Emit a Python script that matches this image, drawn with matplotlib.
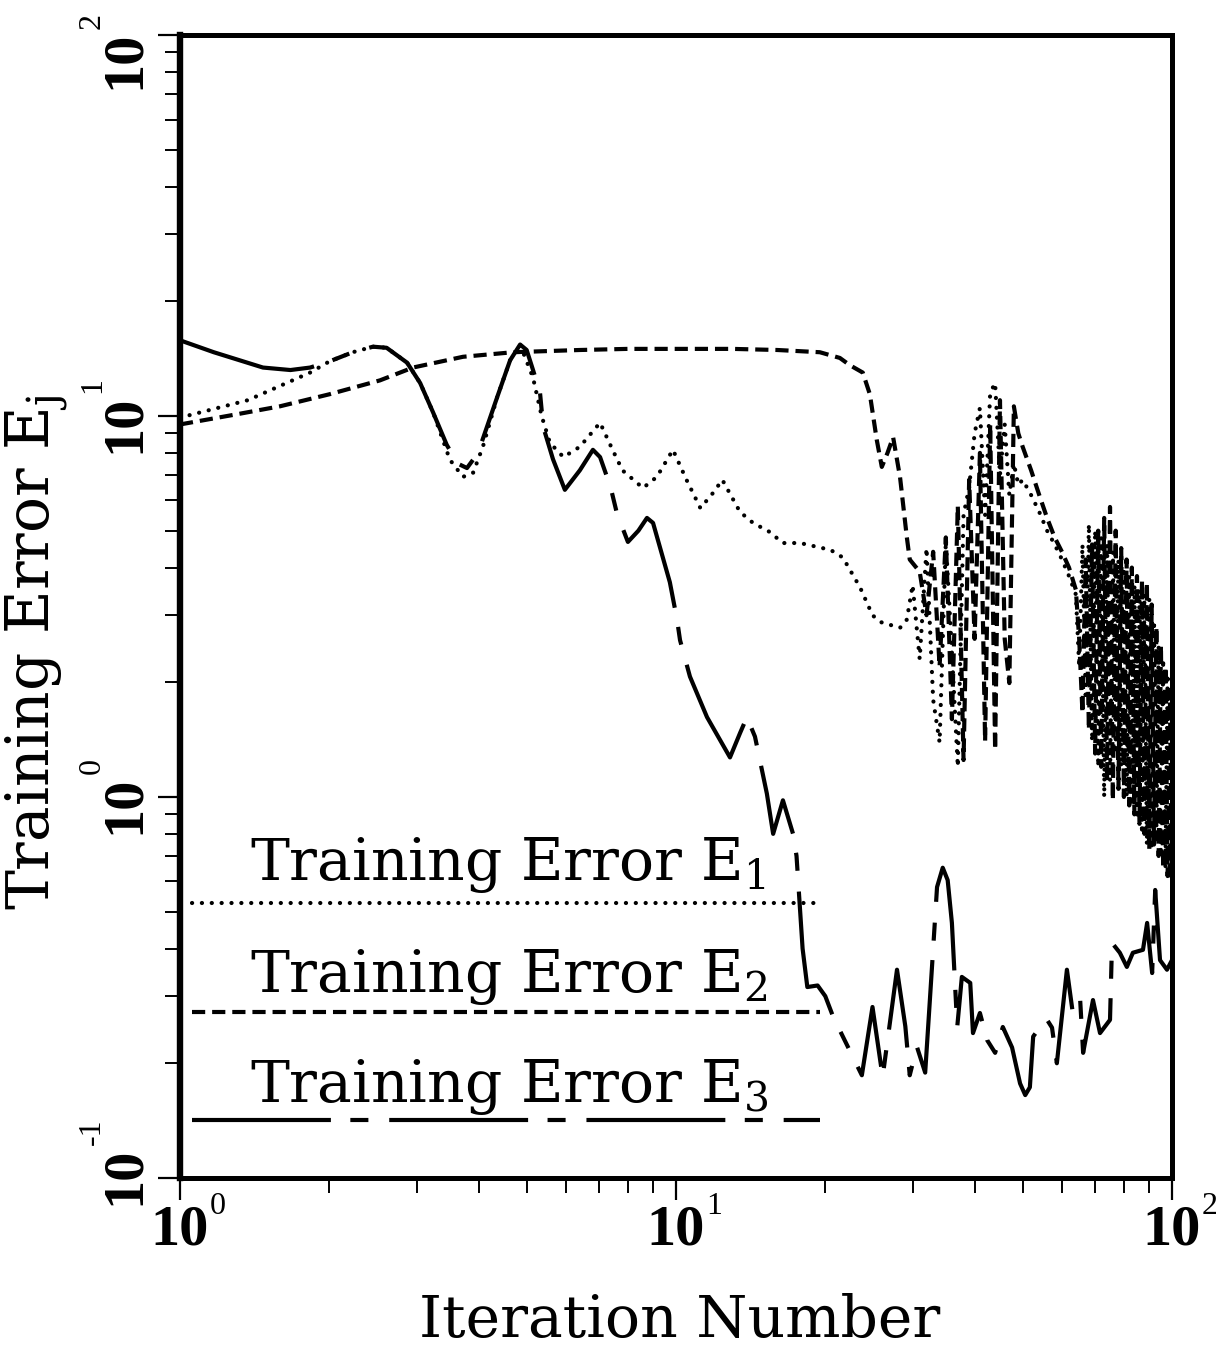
import matplotlib
matplotlib.use("Agg")
import matplotlib.pyplot as plt
from matplotlib.ticker import FixedLocator, NullFormatter
from matplotlib.transforms import blended_transform_factory

plt.rcParams["mathtext.fontset"] = "dejavuserif"
plt.rcParams["lines.scale_dashes"] = False

# ---------------------------------------------------------------- data
# Training error E1 (dotted)
e1_iter = [1.00, 1.37, 1.83, 2.00, 2.23, 2.45, 2.61, 2.87, 3.05, 3.24, 3.50,
           3.72, 3.90, 4.08, 4.36, 4.63, 4.85, 5.15, 5.36, 5.57, 5.93, 6.40,
           7.03, 7.45, 7.80, 8.58, 9.15, 9.86, 10.5, 11.2, 11.9, 12.4, 13.46,
           14.3, 15.5, 16.4, 17.8, 20.5, 21.7, 23.5, 24.9, 25.8, 28.3, 29.2,
           30, 31, 32, 33, 34, 35, 36, 37, 38, 39, 40, 41, 42, 43, 44, 45, 46,
           47, 48, 49, 50, 52, 54, 56, 58, 60, 62, 64, 65, 66, 67, 68, 69, 70,
           71, 72, 73, 74, 75, 76, 77, 78, 79, 80, 81, 82, 83, 84, 85, 86, 87,
           88, 89, 90, 91, 92, 93, 94, 95, 96, 97, 98, 99, 100]
e1_err = [9.9, 11.0, 13.0, 13.9, 14.7, 15.2, 15.1, 13.8, 12.2, 10.2, 7.68,
          6.92, 7.1, 8.3, 11.2, 14.0, 15.4, 12.6, 10.0, 8.5, 7.8, 8.3,
          9.6, 8.15, 7.2, 6.47, 6.92, 8.15, 6.8, 5.73, 6.3, 6.8, 5.6,
          5.24, 4.95, 4.64, 4.64, 4.45, 4.25, 3.55, 3.0, 2.88, 2.78, 2.92,
          3.6, 2.3, 4.5, 1.8, 1.39, 4.7, 2.4, 1.2, 5.5, 6.5, 9.0, 10.5, 5.5,
          11.5, 12.2, 7.0, 9.5, 6.2, 7.5, 6.6, 6.8, 6.2, 5.6, 5.0, 4.6, 4.2,
          3.8, 3.4, 2.2, 4.6, 1.8, 5.2, 1.4, 5.0, 1.2, 4.8, 1.0, 4.6, 1.1,
          4.4, 1.3, 4.2, 1.2, 4.0, 1.0, 3.8, 0.95, 3.6, 0.9, 3.5, 0.8, 3.4,
          0.75, 3.3, 0.73, 2.9, 0.8, 2.5, 0.7, 2.3, 0.65, 2.1, 0.62, 1.9]

# Training error E2 (dashed)
e2_iter = [1.00, 1.30, 1.59, 2.00, 2.53, 2.95, 3.72, 4.69, 6.4, 8.0, 10.0,
           13.0, 16.0, 19.5, 21.4, 22.4, 23.8, 24.6, 25.4, 26.0, 26.7, 27.4,
           28.3, 29.2, 29.6, 31, 32, 33, 34, 35, 36, 37, 38, 39, 40, 41, 42,
           43, 44, 45, 46, 47, 48, 49, 50, 52, 54, 56, 58, 60, 62, 64, 65, 66,
           67, 68, 69, 70, 71, 72, 73, 74, 75, 76, 77, 78, 79, 80, 81, 82, 83,
           84, 85, 86, 87, 88, 89, 90, 91, 92, 93, 94, 95, 96, 97, 98, 99, 100]
e2_err = [9.5, 10.1, 10.6, 11.4, 12.4, 13.4, 14.3, 14.7, 14.9, 15.0, 15.0,
          15.0, 14.9, 14.7, 14.2, 13.6, 13.0, 11.4, 8.65, 7.35, 8.0, 8.8,
          6.9, 4.81, 4.2, 3.9, 3.0, 4.4, 2.2, 4.8, 1.6, 5.8, 1.25, 6.8, 2.6,
          8.0, 1.4, 9.5, 1.33, 11.0, 2.6, 1.99, 10.6, 9.0, 8.3, 7.2, 6.2, 5.4,
          4.8, 4.4, 4.0, 3.5, 2.6, 1.66, 4.2, 1.5, 4.6, 1.3, 5.0, 1.2, 5.4,
          1.1, 5.77, 0.98, 5.0, 1.05, 4.5, 1.0, 4.2, 0.95, 4.0, 0.9, 3.8,
          0.85, 3.7, 0.8, 3.65, 0.73, 3.2, 0.75, 2.8, 0.7, 2.5, 0.65, 2.2,
          0.62, 1.9, 0.6]

# Training error E3 (long dashes)
e3_iter = [1.00, 1.17, 1.47, 1.67, 1.83, 2.00, 2.23, 2.45, 2.61, 2.87, 3.05,
           3.24, 3.45, 3.63, 3.79, 3.90, 4.06, 4.36, 4.63, 4.85, 5.00, 5.15,
           5.32, 5.40, 5.65, 5.97, 6.40, 6.80, 7.03, 7.26, 7.43, 7.60, 8.00,
           8.40, 8.74, 8.99, 9.72, 10.05, 10.19, 10.67, 11.55, 12.85, 13.46,
           13.90, 14.43, 15.25, 15.70, 16.43, 17.22, 17.5, 18.0, 18.4, 19.3,
           20.0, 20.74, 23.7, 24.9, 26.1, 27.9, 29.0, 29.6, 30.6, 31.8, 32.5,
           33.0, 33.6, 34.5, 35.3, 36.0, 36.9, 37.7, 39.2, 39.7, 41.0, 42.4,
           44.0, 45.6, 47.6, 49.4, 50.6, 51.7, 52.5, 54.2, 56.0, 57.3, 58.6,
           61.4, 63.1, 65.3, 66.2, 69.3, 71.6, 75.0, 75.7, 78.5, 81.1, 83.4,
           87.4, 89.1, 91.2, 92.5, 94.6, 97.7, 100]
e3_err = [15.8, 14.7, 13.4, 13.2, 13.4, 13.9, 14.7, 15.2, 15.1, 13.8, 12.2,
          10.2, 8.4, 7.5, 7.3, 7.68, 8.55, 11.2, 14.0, 15.4, 14.9, 13.2,
          11.5, 9.36, 7.7, 6.4, 7.2, 8.15, 7.8, 6.92, 6.28, 5.56, 4.67,
          5.0, 5.40, 5.24, 3.66, 2.92, 2.58, 2.07, 1.62, 1.27, 1.47,
          1.62, 1.44, 1.02, 0.80, 0.98, 0.80, 0.70, 0.40, 0.317, 0.32,
          0.30, 0.265, 0.186, 0.281, 0.184, 0.352, 0.25, 0.186, 0.221, 0.189,
          0.293, 0.40, 0.58, 0.652, 0.605, 0.467, 0.249, 0.337, 0.325, 0.24,
          0.271, 0.230, 0.213, 0.249, 0.22, 0.177, 0.165, 0.173, 0.235, 0.249,
          0.260, 0.248, 0.200, 0.352, 0.271, 0.293, 0.213, 0.293, 0.240,
          0.260, 0.414, 0.39, 0.358, 0.39, 0.397, 0.467, 0.345, 0.57, 0.373,
          0.352, 0.373]

legend_labels = ["Training Error E$_1$", "Training Error E$_2$",
                 "Training Error E$_3$"]

x_major = [1, 10, 100]
x_major_text = ["10", "10", "10"]
x_exponents = ["0", "1", "2"]
x_minor = [2, 3, 4, 5, 6, 7, 8, 9, 20, 30, 40, 50, 60, 70, 80, 90]

y_major = [0.1, 1, 10, 100]
y_major_text = ["10", "10", "10", "10"]
y_exponents = ["-1", "0", "1", "2"]
y_minor = [0.2, 0.3, 0.4, 0.5, 0.6, 0.7, 0.8, 0.9,
           2, 3, 4, 5, 6, 7, 8, 9, 20, 30, 40, 50, 60, 70, 80, 90]

# ---------------------------------------------------------------- styles
LW = 3.0
STYLE_DOT = dict(color="black", lw=LW, linestyle=(0, (0.1, 7.0)),
                 dash_capstyle="round")
STYLE_DASH = dict(color="black", lw=LW, linestyle=(0, (9.5, 5.0)),
                  dash_capstyle="butt")
STYLE_LONG = dict(color="black", lw=LW, linestyle=(0, (100, 14, 13, 15)),
                  dash_capstyle="butt", dash_joinstyle="round")

SERIF = "DejaVu Serif"
TICKFONT = "Liberation Serif"
PX = 0.72  # points per pixel at 100 dpi

fig = plt.figure(figsize=(12.16, 13.51), dpi=100)
ax = fig.add_axes([0.1480, 0.1281, 0.8158, 0.8460])
ax.set_xscale("log")
ax.set_yscale("log")

ax.plot(e2_iter, e2_err, **STYLE_DASH)
ax.plot(e1_iter, e1_err, **STYLE_DOT)
ax.plot(e3_iter, e3_err, **STYLE_LONG)

ax.set_xlim(1, 100)
ax.set_ylim(0.1, 100)

# ---------------------------------------------------------------- legend
leg_text_y = [0.2607, 0.1627, 0.0665]
leg_line_y = [0.2406, 0.1452, 0.0507]
for label, ty, ly, st in zip(legend_labels, leg_text_y, leg_line_y,
                             [STYLE_DOT, STYLE_DASH, STYLE_LONG]):
    ax.text(0.0706, ty, label, transform=ax.transAxes, fontsize=42,
            family=SERIF, va="baseline", ha="left")
    ax.plot([0.012, 0.645], [ly, ly], transform=ax.transAxes, **st)

# ---------------------------------------------------------------- axes
for name, sp in ax.spines.items():
    sp.set_linewidth(3.6)
ax.spines["left"].set_linewidth(4.6)

ax.xaxis.set_major_locator(FixedLocator(x_major))
ax.xaxis.set_minor_locator(FixedLocator(x_minor))
ax.xaxis.set_major_formatter(NullFormatter())
ax.xaxis.set_minor_formatter(NullFormatter())
ax.yaxis.set_major_locator(FixedLocator(y_major))
ax.yaxis.set_minor_locator(FixedLocator(y_minor))
ax.yaxis.set_major_formatter(NullFormatter())
ax.yaxis.set_minor_formatter(NullFormatter())

ax.tick_params(which="major", direction="out", length=16, width=1.6,
               top=False, right=False)
ax.tick_params(which="minor", direction="out", length=11, width=1.4,
               top=False, right=False)

# power-of-ten tick labels: bold mantissa with a small exponent
LABEL_SIZE = 42
EXP_SIZE = 23
tx = blended_transform_factory(ax.transData, ax.transAxes)
for v, m, e in zip(x_major, x_major_text, x_exponents):
    ax.annotate(m, xy=(v, 0), xycoords=tx, xytext=(0, -67 * PX),
                textcoords="offset points", fontsize=LABEL_SIZE,
                family=TICKFONT, fontweight="bold", ha="center",
                va="baseline", annotation_clip=False)
    ax.annotate(e, xy=(v, 0), xycoords=tx, xytext=(30 * PX, -36 * PX),
                textcoords="offset points", fontsize=EXP_SIZE,
                family=TICKFONT, ha="left", va="baseline",
                annotation_clip=False)

ty_tr = blended_transform_factory(ax.transAxes, ax.transData)
y_shift_px = [2, -8, -8, -25]
for v, m, e, s in zip(y_major, y_major_text, y_exponents, y_shift_px):
    ax.annotate(m, xy=(0, v), xycoords=ty_tr, xytext=(-41 * PX, s * PX),
                textcoords="offset points", fontsize=LABEL_SIZE,
                family=TICKFONT, fontweight="bold", rotation=90,
                rotation_mode="anchor", ha="center", va="baseline",
                annotation_clip=False)
    ax.annotate(e, xy=(0, v), xycoords=ty_tr,
                xytext=(-80 * PX, (s + 31) * PX),
                textcoords="offset points", fontsize=EXP_SIZE,
                family=TICKFONT, rotation=90, rotation_mode="anchor",
                ha="left", va="baseline", annotation_clip=False)

fig.text(37 / 1216, 1 - 652 / 1351, r"Training Error E$_\mathrm{j}$",
         rotation=90, ha="center", va="center", fontsize=43, family=SERIF)
fig.text(680 / 1216, 1 - 1337 / 1351, "Iteration Number", ha="center",
         va="baseline", fontsize=42, family=SERIF)

fig.savefig("out.png", dpi=100)
